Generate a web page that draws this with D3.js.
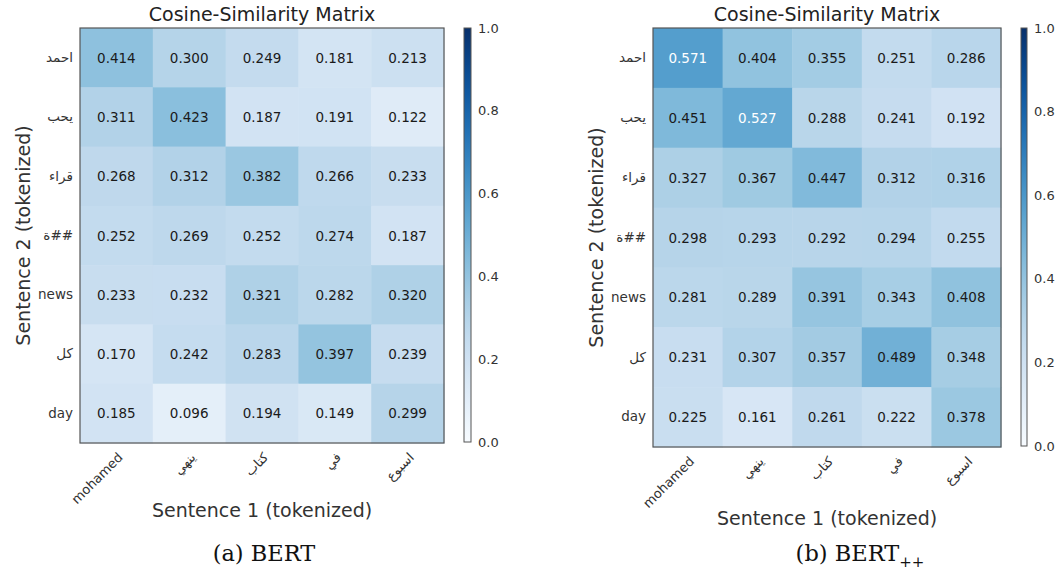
<!DOCTYPE html>
<html>
<head>
<meta charset="utf-8">
<script src="https://cdn.jsdelivr.net/npm/d3@7"></script>
<style>
  body { margin: 0; background: #fff; }
  svg { display: block; }
</style>
</head>
<body>
<svg id="chart" width="1060" height="581"></svg>
<script>
// ---- data ----
const xTokens = ["mohamed", "ينهي", "كتاب", "في", "اسبوع"];
const yTokens = ["احمد", "يحب", "قراء", "ة##", "news", "كل", "day"];
const bertValues = [
  [0.414, 0.300, 0.249, 0.181, 0.213],
  [0.311, 0.423, 0.187, 0.191, 0.122],
  [0.268, 0.312, 0.382, 0.266, 0.233],
  [0.252, 0.269, 0.252, 0.274, 0.187],
  [0.233, 0.232, 0.321, 0.282, 0.320],
  [0.170, 0.242, 0.283, 0.397, 0.239],
  [0.185, 0.096, 0.194, 0.149, 0.299]
];
const bertPPValues = [
  [0.571, 0.404, 0.355, 0.251, 0.286],
  [0.451, 0.527, 0.288, 0.241, 0.192],
  [0.327, 0.367, 0.447, 0.312, 0.316],
  [0.298, 0.293, 0.292, 0.294, 0.255],
  [0.281, 0.289, 0.391, 0.343, 0.408],
  [0.231, 0.307, 0.357, 0.489, 0.348],
  [0.225, 0.161, 0.261, 0.222, 0.378]
];
const colorbarTicks = [0.0, 0.2, 0.4, 0.6, 0.8, 1.0];
const chartTitle = "Cosine-Similarity Matrix";
const xLabel = "Sentence 1 (tokenized)";
const yLabel = "Sentence 2 (tokenized)";

const svg = d3.select("#chart");
const color = d3.scaleSequential(d3.interpolateBlues).domain([0, 1]);
const sans = "DejaVu Sans, sans-serif";

function panel(id, values, L) {
  const g = svg.append("g");
  const x = d3.scaleBand().domain(xTokens).range([L.x0, L.x1]);
  const y = d3.scaleBand().domain(yTokens).range([L.y0, L.y1]);

  const cells = [];
  values.forEach((row, i) => row.forEach((v, j) => cells.push({r: yTokens[i], c: xTokens[j], v})));

  g.selectAll("rect.cell").data(cells).enter().append("rect")
    .attr("x", d => x(d.c)).attr("y", d => y(d.r))
    .attr("width", x.bandwidth() + 0.5).attr("height", y.bandwidth() + 0.5)
    .attr("fill", d => color(d.v));

  g.selectAll("text.val").data(cells).enter().append("text")
    .attr("x", d => x(d.c) + x.bandwidth() / 2)
    .attr("y", d => y(d.r) + y.bandwidth() / 2)
    .attr("text-anchor", "middle").attr("dominant-baseline", "central")
    .attr("font-family", sans).attr("font-size", 13.5)
    .attr("fill", d => d.v > 0.5 ? "#ffffff" : "#1a1a1a")
    .text(d => d3.format(".3f")(d.v));

  g.append("rect").attr("x", L.x0).attr("y", L.y0)
    .attr("width", L.x1 - L.x0).attr("height", L.y1 - L.y0)
    .attr("fill", "none").attr("stroke", "#555").attr("stroke-width", 1.2);

  // y axis tick labels
  const yAx = g.append("g").attr("transform", `translate(${L.x0},0)`)
    .call(d3.axisLeft(y).tickSize(0).tickPadding(7));
  yAx.select(".domain").remove();
  yAx.selectAll("text").attr("font-family", sans).attr("font-size", 13.5).attr("fill", "#333");

  // x axis tick labels rotated
  const xAx = g.append("g").attr("transform", `translate(0,${L.y1})`)
    .call(d3.axisBottom(x).tickSize(0).tickPadding(0));
  xAx.select(".domain").remove();
  xAx.selectAll("text")
    .attr("font-family", sans).attr("font-size", 13).attr("fill", "#333")
    .attr("text-anchor", "end").attr("dy", null).attr("y", 0)
    .attr("dominant-baseline", "central")
    .attr("transform", "translate(4,12) rotate(-45)");

  // title
  g.append("text").attr("x", (L.x0 + L.x1) / 2).attr("y", 21)
    .attr("text-anchor", "middle").attr("font-family", sans).attr("font-size", 19)
    .attr("fill", "#222").text(chartTitle);

  // axis labels
  g.append("text").attr("x", (L.x0 + L.x1) / 2).attr("y", L.xLabY)
    .attr("text-anchor", "middle").attr("font-family", sans).attr("font-size", 19)
    .attr("fill", "#333").text(xLabel);
  g.append("text")
    .attr("transform", `translate(${L.yLabX},${(L.y0 + L.y1) / 2}) rotate(-90)`)
    .attr("text-anchor", "middle").attr("font-family", sans).attr("font-size", 19)
    .attr("fill", "#333").text(yLabel);

  // colorbar
  const cb = d3.scaleLinear().domain([0, 1]).range([L.y1 - 1, L.y0]);
  const grad = svg.append("defs").append("linearGradient").attr("id", "grad" + id)
    .attr("x1", 0).attr("y1", 1).attr("x2", 0).attr("y2", 0);
  d3.range(0, 1.0001, 0.05).forEach(t => grad.append("stop")
    .attr("offset", t).attr("stop-color", color(t)));
  g.append("rect").attr("x", L.cbX).attr("y", cb(1))
    .attr("width", L.cbW).attr("height", cb(0) - cb(1))
    .attr("fill", `url(#grad${id})`).attr("stroke", "#555").attr("stroke-width", 1);
  const cAx = g.append("g").attr("transform", `translate(${L.cbX + L.cbW},0)`)
    .call(d3.axisRight(cb).tickValues(colorbarTicks).tickSize(0).tickPadding(7).tickFormat(d3.format(".1f")));
  cAx.select(".domain").remove();
  cAx.selectAll("text").attr("font-family", sans).attr("font-size", 13).attr("fill", "#333");

  // caption
  const cap = g.append("text").attr("x", L.capX).attr("y", 561)
    .attr("text-anchor", "middle").attr("font-family", "DejaVu Serif, Liberation Serif, serif")
    .attr("font-size", 22.5).attr("fill", "#111");
  cap.append("tspan").text(L.cap);
  if (L.capSub) {
    cap.append("tspan").attr("font-size", 15).attr("dy", 6).text(L.capSub);
  }
}

panel("a", bertValues, {x0: 80, x1: 444, y0: 28, y1: 443, cbX: 464, cbW: 7,
  xLabY: 517, yLabX: 30, capX: 264, cap: "(a) BERT"});
panel("b", bertPPValues, {x0: 653, x1: 1001, y0: 28, y1: 447, cbX: 1021, cbW: 6,
  xLabY: 525, yLabX: 603, capX: 860, cap: "(b) BERT", capSub: "++"});
</script>
</body>
</html>
